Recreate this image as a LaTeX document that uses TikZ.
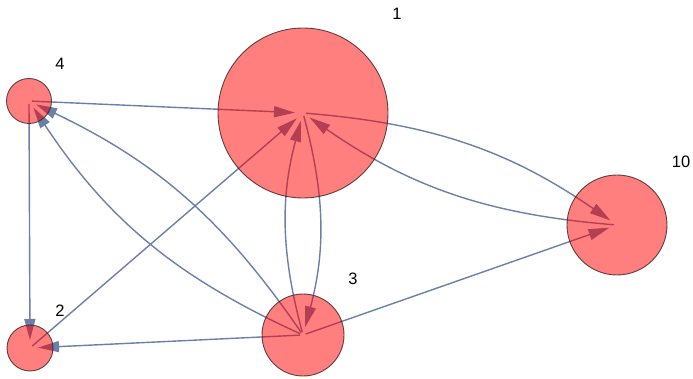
\documentclass[tikz,border=0pt]{standalone}
\usepackage{fontspec}
\setmainfont{Liberation Sans}
\usetikzlibrary{arrows.meta, backgrounds}
\definecolor{cedge}{HTML}{6A80AA}
\definecolor{cnode}{HTML}{FF0000}
\definecolor{cline}{HTML}{3A2020}
\tikzset{
  every picture/.style={x=1pt, y=-1pt},
  vertex/.style={circle, fill=cnode, fill opacity=0.5, draw=cline, draw opacity=0.8, line width=0.9pt, inner sep=0pt, minimum size=#1},
  arrow/.style={-{Triangle[length=21pt, width=11pt]}, draw=cedge, line width=1.4pt, shorten >=8pt, shorten <=3pt},
  tag/.style={font=\fontsize{16.5}{19}\selectfont, text=black},
}

\begin{document}
\begin{tikzpicture}
  \useasboundingbox (0,0) rectangle (693,379);
  \node[vertex=170pt] (n1) at (303,113) {};
  \node[vertex=45pt] (n4) at (29,101) {};
  \node[vertex=46pt] (n2) at (30,348) {};
  \node[vertex=82pt] (n3) at (303,335) {};
  \node[vertex=100pt] (n10) at (617,225) {};
  \node[tag] (t1) at (397,14) {1};
  \node[tag] (t4) at (60,64) {4};
  \node[tag] (t2) at (60,311) {2};
  \node[tag] (t3) at (353,279) {3};
  \node[tag] (t10) at (681,162) {10};
  \begin{scope}[on background layer]
    \draw[arrow] (n4.center) -- (n1.center);
    \draw[arrow] (n4.center) -- (n2.center);
    \draw[arrow] (n2.center) -- (n1.center);
    \draw[arrow] (n3.center) -- (n2.center);
    \draw[arrow] (n3.center) -- (n10.center);
    \draw[arrow] (n3.center) to[bend right=15] (n4.center);
    \draw[arrow] (n3.center) to[bend left=16] (n4.center);
    \draw[arrow] (n3.center) to[bend left=15] (n1.center);
    \draw[arrow] (n1.center) to[bend left=15] (n3.center);
    \draw[arrow] (n1.center) to[bend left=15] (n10.center);
    \draw[arrow] (n10.center) to[bend left=15] (n1.center);
  \end{scope}
\end{tikzpicture}
\end{document}
